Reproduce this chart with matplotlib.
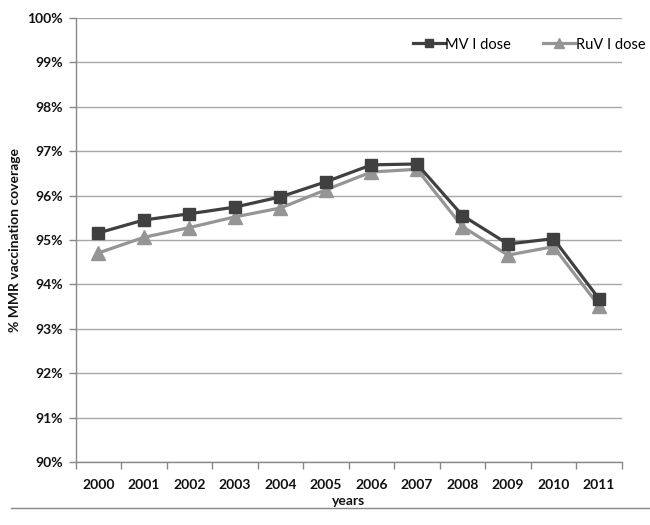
import matplotlib
matplotlib.use("Agg")
import matplotlib.pyplot as plt
from matplotlib.lines import Line2D
from matplotlib.ticker import FuncFormatter

years = ["2000", "2001", "2002", "2003", "2004", "2005", "2006", "2007", "2008", "2009", "2010", "2011"]
mv_dose = [95.16, 95.45, 95.59, 95.74, 95.97, 96.31, 96.69, 96.71, 95.55, 94.91, 95.03, 93.68]
ruv_dose = [94.71, 95.06, 95.28, 95.52, 95.72, 96.13, 96.53, 96.59, 95.30, 94.66, 94.85, 93.52]

plt.rcParams['font.family'] = ['Lato', 'DejaVu Sans']

fig = plt.figure(figsize=(6.5, 5.25), dpi=100)
ax = fig.add_axes([75.7/650, 1-462.3/525, (621.7-75.7)/650, (462.3-17.7)/525])

x = list(range(len(years)))
ax.plot(x, mv_dose, color="#404040", lw=2.3, marker="s", markersize=9, label="MV I dose", zorder=4)
ax.plot(x, ruv_dose, color="#959595", lw=2.3, marker="^", markersize=9.5, label="RuV I dose", zorder=3)

ax.set_xlim(-0.5, len(years) - 0.5)
ax.set_ylim(90, 100)
ax.set_yticks(range(90, 101))
ax.yaxis.set_major_formatter(FuncFormatter(lambda v, p: f"{int(round(v))}%"))
ax.set_xticks(x)
ax.set_xticklabels(years)
ax.set_xticks([i - 0.5 for i in range(len(years) + 1)], minor=True)
ax.tick_params(axis="x", which="major", length=0, pad=12)
ax.tick_params(axis="x", which="minor", length=5, color="#888888", width=1)
ax.tick_params(axis="y", length=5, color="#888888", width=1, pad=4)
for lab in ax.get_xticklabels() + ax.get_yticklabels():
    lab.set_fontweight("bold")
    lab.set_fontsize(10)
    lab.set_color("#111111")

ax.grid(axis="y", color="#a8a8a8", lw=1)
ax.set_axisbelow(True)
for s in ["top", "right"]:
    ax.spines[s].set_visible(False)
for s in ["left", "bottom"]:
    ax.spines[s].set_color("#888888")
    ax.spines[s].set_linewidth(1)

ax.set_xlabel("years", fontweight="bold", fontsize=10, labelpad=3, color="#111111")
ax.set_ylabel("% MMR vaccination coverage", fontweight="bold", fontsize=10, labelpad=5, color="#111111")

leg = ax.legend(loc="upper right", bbox_to_anchor=(1.06, 0.975), ncol=2, frameon=False,
                fontsize=10.5, handlelength=2.2, handletextpad=0.05, columnspacing=2.2,
                markerscale=0.7, borderaxespad=0.2)

fig.add_artist(Line2D([11/650, 1.0], [1-508.3/525, 1-508.3/525], color="#888888", lw=1,
                      transform=fig.transFigure))

fig.savefig("out.png", dpi=100, facecolor="white")
